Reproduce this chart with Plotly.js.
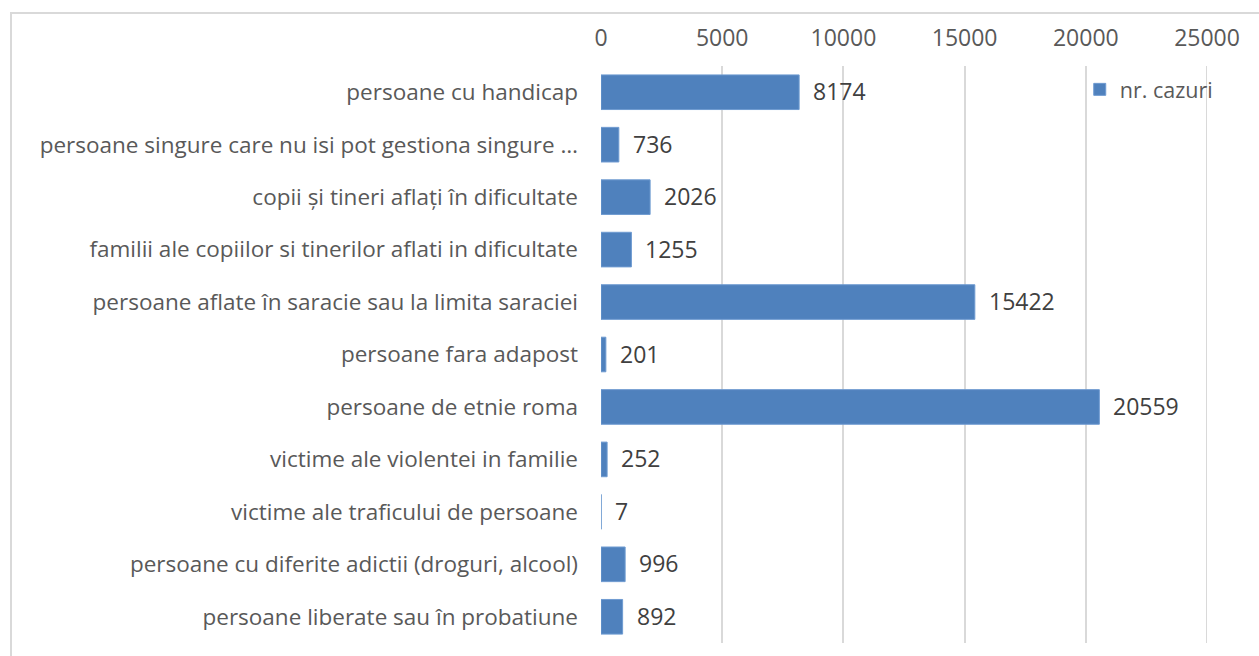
<!DOCTYPE html>
<html>
<head>
<meta charset="utf-8">
<script src="https://cdn.plot.ly/plotly-3.0.1.min.js"></script>
<style>
  html, body { margin: 0; padding: 0; background: #ffffff; overflow: hidden; }
  #wrap { position: relative; width: 1259px; height: 656px; }
  #chart { position: absolute; left: 0; top: 0; width: 1259px; height: 656px; }
  #frame { position: absolute; left: 10px; top: 12px; width: 1300px; height: 700px;
           border: 2px solid #d9d9d9; pointer-events: none; box-sizing: border-box; }
</style>
</head>
<body>
<div id="wrap">
  <div id="chart"></div>
  <div id="frame"></div>
</div>
<script>
const categories = [
  "persoane cu handicap",
  "persoane singure care nu isi pot gestiona singure …",
  "copii și tineri aflați în dificultate",
  "familii ale copiilor si tinerilor aflati in dificultate",
  "persoane aflate în saracie sau la limita saraciei",
  "persoane fara adapost",
  "persoane de etnie roma",
  "victime ale violentei in familie",
  "victime ale traficului de persoane",
  "persoane cu diferite adictii (droguri, alcool)",
  "persoane liberate sau în probatiune"
];
const cases = [8174, 736, 2026, 1255, 15422, 201, 20559, 252, 7, 996, 892];
const seriesName = "nr. cazuri";
const xTicks = [0, 5000, 10000, 15000, 20000, 25000];

const FONT = "'Open Sans', 'Noto Sans', sans-serif";

const trace = {
  type: "bar",
  orientation: "h",
  name: seriesName,
  x: cases,
  y: categories,
  marker: { color: "#4f81bd", line: { color: "#6f9bd1", width: 1 } },
  hoverinfo: "x+y",
  showlegend: true
};

const annotations = cases.map((v, i) => ({
  x: v, y: categories[i], xref: "x", yref: "y",
  text: String(v), showarrow: false, xanchor: "left", yanchor: "middle",
  xshift: 12, yshift: 1,
  font: { family: FONT, size: 23, color: "#404040" }
}));

const edgeGrid = {
  type: "line", layer: "below",
  xref: "x", yref: "paper",
  x0: xTicks[xTicks.length - 1], x1: xTicks[xTicks.length - 1], y0: 0, y1: 1,
  line: { color: "#d9d9d9", width: 2 }
};

const layout = {
  width: 1259, height: 656,
  margin: { l: 601, r: 52, t: 66, b: 13, pad: 0 },
  paper_bgcolor: "#ffffff",
  plot_bgcolor: "#ffffff",
  bargap: 0.34,
  font: { family: FONT, color: "#595959" },
  xaxis: {
    side: "top",
    range: [0, 25000],
    tickvals: xTicks,
    ticktext: xTicks.map(String),
    showgrid: true, gridcolor: "#d9d9d9", gridwidth: 2,
    zeroline: false, showline: false, ticks: "",
    ticklabelstandoff: 14,
    tickfont: { family: FONT, size: 23, color: "#595959" },
    fixedrange: true
  },
  yaxis: {
    type: "category",
    categoryorder: "array",
    categoryarray: categories,
    autorange: "reversed",
    showgrid: false, zeroline: false, showline: false, ticks: "",
    ticklabelstandoff: 22,
    tickfont: { family: FONT, size: 22.5, color: "#595959" },
    fixedrange: true
  },
  legend: {
    x: 0.79, y: 0.995, xanchor: "left", yanchor: "top",
    bgcolor: "rgba(0,0,0,0)",
    font: { family: FONT, size: 21.5, color: "#595959" },
    itemwidth: 30
  },
  shapes: [edgeGrid],
  annotations: annotations,
  showlegend: true
};

Plotly.newPlot("chart", [trace], layout, { displayModeBar: false, staticPlot: true });
</script>
</body>
</html>
